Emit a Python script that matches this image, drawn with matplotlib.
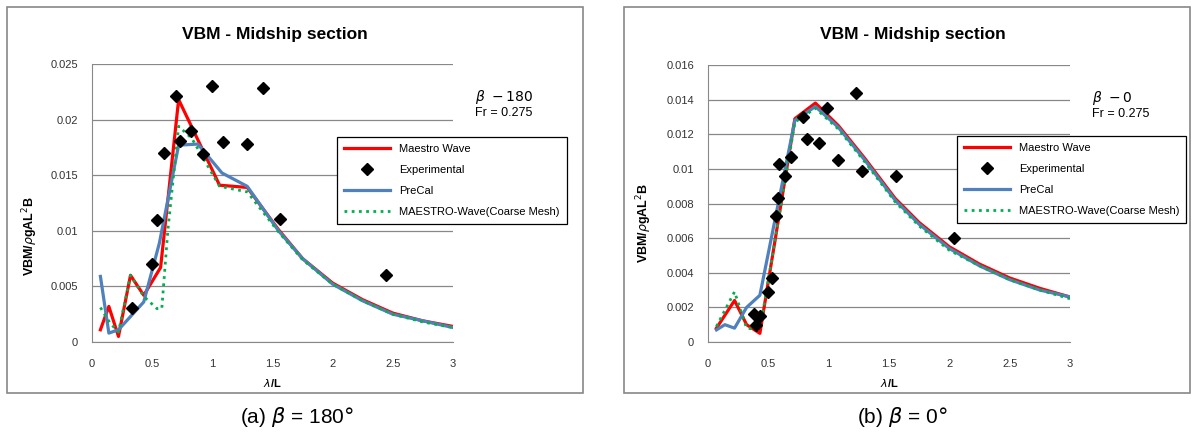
import matplotlib
matplotlib.use('Agg')
import matplotlib.pyplot as plt
from matplotlib.patches import Rectangle
from matplotlib.ticker import FuncFormatter

plt.rcParams['font.family'] = ['Liberation Sans', 'DejaVu Sans']
plt.rcParams['mathtext.fontset'] = 'dejavusans'

# (a) beta = 180
xa_red = [0.07, 0.14, 0.22, 0.32, 0.43, 0.57, 0.72, 1.06, 1.29, 1.55, 1.75, 2.0, 2.25, 2.5, 2.75, 3.0]
ya_red = [0.0011, 0.0032, 0.0005, 0.0060, 0.0042, 0.0067, 0.0218, 0.0141, 0.0139, 0.0101, 0.0075, 0.0053, 0.0038, 0.0026, 0.0019, 0.0014]
xa_blue = [0.07, 0.14, 0.22, 0.43, 0.56, 0.72, 0.88, 1.08, 1.29, 1.55, 1.75, 2.0, 2.25, 2.5, 2.75, 3.0]
ya_blue = [0.0059, 0.0008, 0.0011, 0.0036, 0.0089, 0.0177, 0.0178, 0.0152, 0.0140, 0.0100, 0.0075, 0.0052, 0.0037, 0.0025, 0.0019, 0.0013]
xa_green = [0.07, 0.15, 0.22, 0.32, 0.43, 0.54, 0.58, 0.63, 0.72, 0.83, 1.06, 1.29, 1.55, 1.75, 2.0, 2.25, 2.5, 2.75, 3.0]
ya_green = [0.0031, 0.0017, 0.0009, 0.0060, 0.0041, 0.0030, 0.0030, 0.0100, 0.0194, 0.0183, 0.0140, 0.0135, 0.0099, 0.0074, 0.0052, 0.0037, 0.0025, 0.0018, 0.0013]
xa_exp = [0.33, 0.50, 0.54, 0.60, 0.70, 0.73, 0.82, 0.92, 1.00, 1.09, 1.29, 1.42, 1.56, 2.44]
ya_exp = [0.0031, 0.0070, 0.0110, 0.0170, 0.0221, 0.0181, 0.0190, 0.0169, 0.0230, 0.0180, 0.0178, 0.0228, 0.0111, 0.0060]

# (b) beta = 0
xb_red = [0.07, 0.22, 0.32, 0.43, 0.72, 0.89, 1.08, 1.30, 1.55, 1.75, 2.0, 2.25, 2.5, 2.75, 3.0]
yb_red = [0.0008, 0.0024, 0.0010, 0.0005, 0.0129, 0.0138, 0.0125, 0.0106, 0.0083, 0.0069, 0.0055, 0.0045, 0.0037, 0.0031, 0.0026]
xb_blue = [0.07, 0.14, 0.22, 0.32, 0.43, 0.72, 0.89, 1.08, 1.30, 1.55, 1.75, 2.0, 2.25, 2.5, 2.75, 3.0]
yb_blue = [0.0007, 0.0010, 0.0008, 0.0020, 0.0027, 0.0128, 0.0136, 0.0124, 0.0105, 0.0082, 0.0068, 0.0054, 0.0044, 0.0036, 0.0030, 0.0026]
xb_green = [0.07, 0.22, 0.32, 0.43, 0.72, 0.89, 1.08, 1.30, 1.55, 1.75, 2.0, 2.25, 2.5, 2.75, 3.0]
yb_green = [0.0009, 0.0029, 0.0008, 0.0007, 0.0127, 0.0135, 0.0123, 0.0104, 0.0081, 0.0067, 0.0053, 0.0044, 0.0036, 0.0030, 0.0025]
xb_exp = [0.38, 0.40, 0.43, 0.50, 0.53, 0.56, 0.58, 0.59, 0.64, 0.69, 0.79, 0.82, 0.92, 0.99, 1.08, 1.23, 1.28, 1.56, 2.04]
yb_exp = [0.0016, 0.0010, 0.0015, 0.0029, 0.0037, 0.0073, 0.0083, 0.0103, 0.0096, 0.0107, 0.0130, 0.0117, 0.0115, 0.0135, 0.0105, 0.0144, 0.0099, 0.0096, 0.0060]

labels = ['Maestro Wave', 'Experimental', 'PreCal', 'MAESTRO-Wave(Coarse Mesh)']

W, H = 1194, 436
fig = plt.figure(figsize=(W / 100, H / 100), dpi=100)


def px_axes(x0, y0, x1, y1):
    return fig.add_axes([x0 / W, 1 - y1 / H, (x1 - x0) / W, (y1 - y0) / H])


def draw_panel(ax, xr, yr, xb, yb, xg, yg, xe, ye, ymax, ystep, beta, leg_xy, ylab_xy):
    l1, = ax.plot(xr, yr, color='#FF0000', lw=2.3, zorder=3)
    l2, = ax.plot(xe, ye, ls='none', marker='D', ms=6, color='black', zorder=5)
    l3, = ax.plot(xb, yb, color='#4F81BD', lw=2.3, zorder=4)
    l4, = ax.plot(xg, yg, color='#00B050', lw=2, ls=(0, (1, 1.6)), zorder=4)
    ax.set_xlim(0, 3)
    ax.set_ylim(0, ymax)
    ax.set_xticks([0, 0.5, 1, 1.5, 2, 2.5, 3])
    yt = [i * ystep for i in range(int(round(ymax / ystep)) + 1)]
    ax.set_yticks(yt)
    ax.xaxis.set_major_formatter(FuncFormatter(lambda v, p: '%g' % round(v, 4)))
    ax.yaxis.set_major_formatter(FuncFormatter(lambda v, p: '%g' % round(v, 4)))
    ax.tick_params(length=0, labelsize=8, colors='#333333', pad=12)
    ax.tick_params(axis='y', pad=10)
    ax.grid(axis='y', color='#888888', lw=0.9)
    ax.set_axisbelow(True)
    for s in ['top', 'right']:
        ax.spines[s].set_visible(False)
    for s in ['left', 'bottom']:
        ax.spines[s].set_color('#888888')
    ax.set_xlabel(r'$\lambda$/L', fontsize=8, fontweight='bold', labelpad=6)
    ax.set_ylabel(r'VBM/$\rho$gAL$^2$B', fontsize=9, fontweight='bold')
    ax.yaxis.set_label_coords(*ylab_xy)
    ax.text(1.06, 0.88, r'$\beta\ -%s$' % beta, transform=ax.transAxes, fontsize=10, va='center')
    ax.text(1.06, 0.822, 'Fr = 0.275', transform=ax.transAxes, fontsize=9, va='center')
    leg = ax.legend([l1, l2, l3, l4], labels, loc='upper left', bbox_to_anchor=leg_xy,
                    borderaxespad=0, fontsize=8, handlelength=4.2, labelspacing=1.0,
                    borderpad=0.6, fancybox=False, framealpha=1, edgecolor='black')
    leg.get_frame().set_linewidth(0.9)
    leg.set_zorder(10)


ax1 = px_axes(92, 64, 453, 342)
draw_panel(ax1, xa_red, ya_red, xa_blue, ya_blue, xa_green, ya_green, xa_exp, ya_exp,
           0.025, 0.005, '180', (0.679, 0.737), (-0.145, 0.38))
ax2 = px_axes(708, 65, 1070, 342)
draw_panel(ax2, xb_red, yb_red, xb_blue, yb_blue, xb_green, yb_green, xb_exp, yb_exp,
           0.016, 0.002, '0', (0.688, 0.744), (-0.15, 0.43))

# panel borders
for x0, x1 in [(7, 583), (624, 1190)]:
    fig.patches.append(Rectangle((x0 / W, 1 - 393 / H), (x1 - x0) / W, 386 / H,
                                 transform=fig.transFigure, fill=False,
                                 edgecolor='#888888', lw=1.2))

fig.text(275 / W, 1 - 35 / H, 'VBM - Midship section', ha='center', va='center',
         fontsize=12.5, fontweight='bold')
fig.text(913 / W, 1 - 35 / H, 'VBM - Midship section', ha='center', va='center',
         fontsize=12.5, fontweight='bold')

fig.text(297 / W, 1 - 417 / H, r'(a) $\beta$ = 180$\degree$', ha='center', va='center', fontsize=15)
fig.text(902 / W, 1 - 417 / H, r'(b) $\beta$ = 0$\degree$', ha='center', va='center', fontsize=15)

fig.savefig('out.png', dpi=100)
